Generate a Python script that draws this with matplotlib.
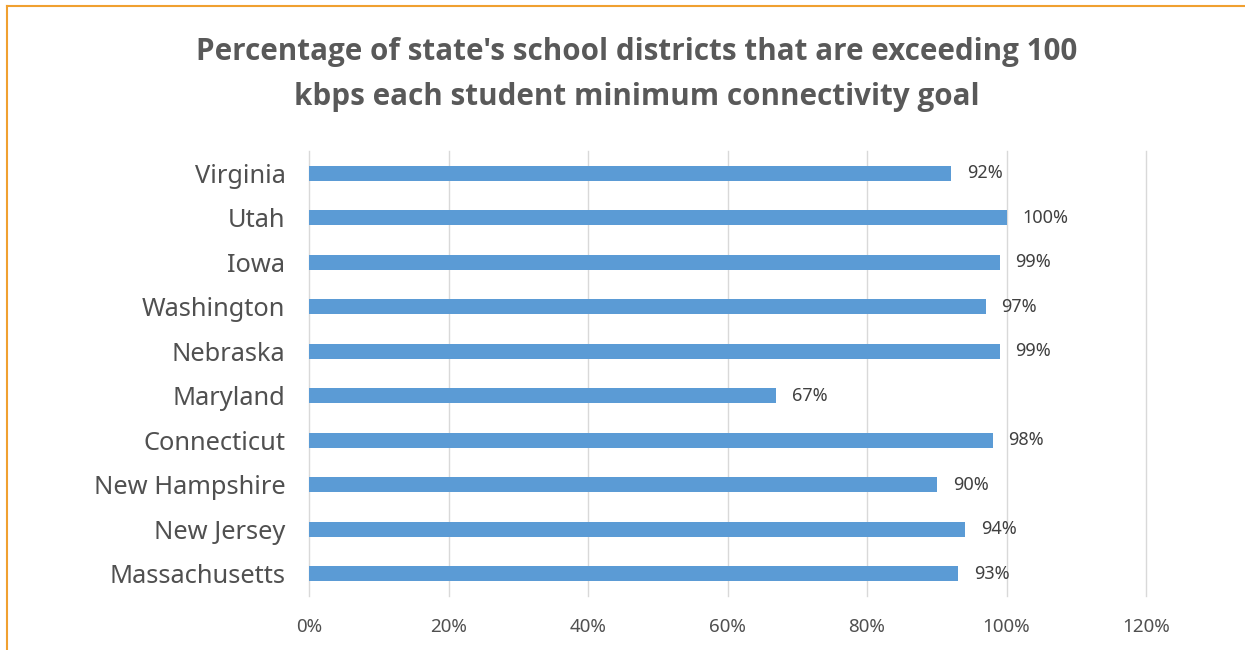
import matplotlib.pyplot as plt
from matplotlib.lines import Line2D
from matplotlib.ticker import FuncFormatter

plt.rcParams['font.family'] = ['Noto Sans', 'DejaVu Sans']

# 州名与达标比例（%）
states = ['Virginia', 'Utah', 'Iowa', 'Washington', 'Nebraska', 'Maryland',
          'Connecticut', 'New Hampshire', 'New Jersey', 'Massachusetts']
pct = [92, 100, 99, 97, 99, 67, 98, 90, 94, 93]
xticks = [0, 20, 40, 60, 80, 100, 120]

fig = plt.figure(figsize=(12.45, 6.5), dpi=100)
ax = fig.add_axes([309/1245, 1 - 596/650, (1146 - 309)/1245, (596 - 151)/650])

y = list(range(len(states)))[::-1]
ax.barh(y, pct, height=0.34, color='#5B9BD5', zorder=3)
for yi, v in zip(y, pct):
    ax.text(v + 2.3, yi, f'{v}%', va='center', ha='left', fontsize=13,
            color='#404040')

ax.set_xlim(0, 120)
ax.set_ylim(-0.5, len(states) - 0.5)
ax.set_yticks(y)
ax.set_yticklabels(states, fontsize=18.3, color='#505050')
ax.set_xticks(xticks)
ax.xaxis.set_major_formatter(FuncFormatter(lambda v, p: f'{v:.0f}%'))
ax.tick_params(axis='x', labelsize=13.5, labelcolor='#505050', length=0, pad=16)
ax.tick_params(axis='y', length=0, pad=17)
ax.grid(axis='x', color='#d9d9d9', lw=1, zorder=0)
for gl in ax.get_xgridlines():
    gl.set_clip_on(False)
for s in ax.spines.values():
    s.set_visible(False)

title_font = dict(ha='center', va='center', fontsize=21.3, fontweight='bold',
                  color='#595959', family=['Open Sans', 'DejaVu Sans'])
fig.text(637/1245, 1 - 52/650,
         "Percentage of state's school districts that are exceeding 100", **title_font)
fig.text(637/1245, 1 - 97/650,
         'kbps each student minimum connectivity goal', **title_font)

# 外框：上边与左边的橙色线
fig.add_artist(Line2D([7/1245, 1], [1 - 6/650, 1 - 6/650], color='#F0A030', lw=1.5,
                      transform=fig.transFigure))
fig.add_artist(Line2D([7/1245, 7/1245], [0, 1 - 6/650], color='#F0A030', lw=1.5,
                      transform=fig.transFigure))

fig.savefig('out.png', dpi=100)
